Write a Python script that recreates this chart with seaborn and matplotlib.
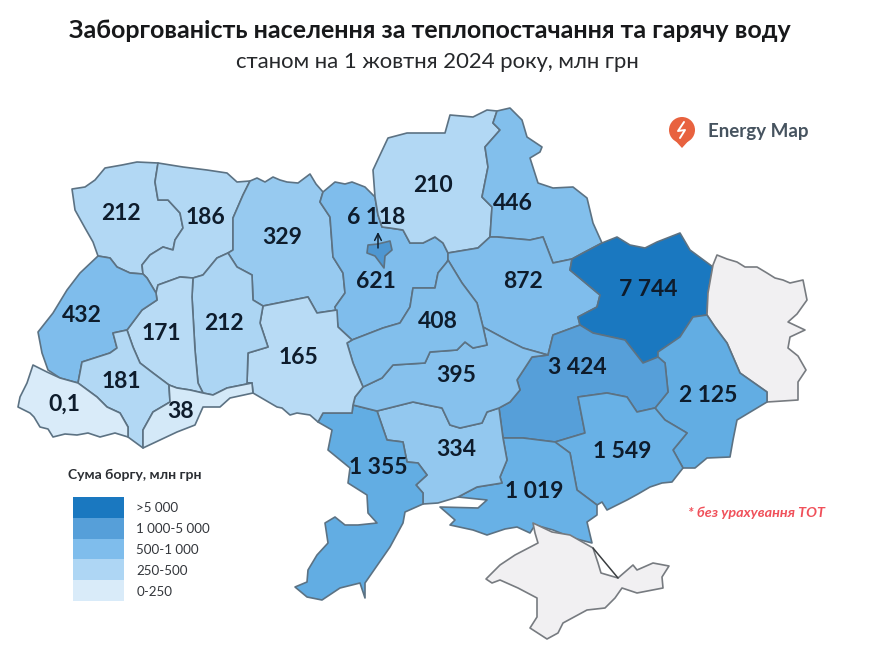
import numpy as np
import matplotlib
matplotlib.use("Agg")
import matplotlib.pyplot as plt
from matplotlib.colors import ListedColormap
from matplotlib.patches import Circle, Polygon
import seaborn as sns

sns.set_theme(style="white")
plt.rcParams['font.family'] = ['Lato', 'Open Sans', 'DejaVu Sans']

TITLE = "Заборгованість населення за теплопостачання та гарячу воду"
SUBTITLE = "станом на 1 жовтня 2024 року, млн грн"
LEGEND_TITLE = "Сума боргу, млн грн"
LEGEND_LABELS = [">5 000", "1 000-5 000", "500-1 000", "250-500", "0-250"]
LEGEND_COLORS = ["#1a78c0", "#569fd9", "#7fbdec", "#aed6f4", "#d9ebf9"]
NOTE = "* без урахування ТОТ"
BRAND = "Energy Map"

debt_labels = {
    "Волинська": "212", "Рівненська": "186", "Житомирська": "329", "Київська": "621",
    "Чернігівська": "210", "Сумська": "446", "Полтавська": "872", "Харківська": "7 744",
    "Донецька": "2 125", "Дніпропетровська": "3 424", "Запорізька": "1 549",
    "Херсонська": "1 019", "Миколаївська": "334", "Одеська": "1 355",
    "Кіровоградська": "395", "Черкаська": "408", "Вінницька": "165",
    "Хмельницька": "212", "Тернопільська": "171", "Львівська": "432",
    "Івано-Франківська": "181", "Закарпатська": "0,1", "Чернівецька": "38",
    "м. Київ": "6 118",
}
fills = {
    "Волинська": "#b2d8f4", "Рівненська": "#b2d8f4", "Житомирська": "#97caf0", "Київська": "#7fbdec",
    "Чернігівська": "#b2d8f4", "Сумська": "#82bfec", "Полтавська": "#7fbdec", "Харківська": "#1a78c0",
    "Донецька": "#62ade3", "Дніпропетровська": "#569fd9", "Запорізька": "#68b1e6",
    "Херсонська": "#68b1e6", "Миколаївська": "#93c8ef", "Одеська": "#62ade3",
    "Кіровоградська": "#86c1ed", "Черкаська": "#82bfec", "Вінницька": "#b8dbf5",
    "Хмельницька": "#acd5f3", "Тернопільська": "#b8dbf5", "Львівська": "#7fbdec",
    "Івано-Франківська": "#b2d8f4", "Закарпатська": "#d9ebf9", "Чернівецька": "#d4e9f8",
    "м. Київ": "#4e97d2", "Луганська": "#f1f0f2", "Крим": "#f1f0f2",
}
label_xy = {
    "Волинська": (121, 213), "Рівненська": (205, 218), "Житомирська": (282, 237), "Київська": (376, 281),
    "Чернігівська": (433, 186), "Сумська": (513, 203), "Полтавська": (523, 282), "Харківська": (648, 290),
    "Донецька": (708, 395), "Дніпропетровська": (577, 367), "Запорізька": (622, 451),
    "Херсонська": (534, 491), "Миколаївська": (456, 450), "Одеська": (378, 468),
    "Кіровоградська": (456, 376), "Черкаська": (438, 321), "Вінницька": (298, 358),
    "Хмельницька": (224, 323), "Тернопільська": (161, 333), "Львівська": (82, 315),
    "Івано-Франківська": (121, 381), "Закарпатська": (64, 404), "Чернівецька": (181, 412),
    "м. Київ": (376, 218),
}
# region outlines, in picture pixels
shapes = {
    "Волинська": [(72,189),(85,187),(95,180),(105,168),(122,165),(137,162),(158,163),(155,182),(158,200),(168,200),(180,213),(183,228),(175,240),(173,250),(163,247),(150,255),(142,265),(143,274),(130,273),(117,267),(110,258),(98,256),(93,242),(85,228),(75,210)],
    "Рівненська": [(158,163),(183,167),(207,170),(227,173),(237,182),(250,181),(243,195),(233,218),(233,250),(228,253),(217,258),(203,275),(193,278),(180,277),(158,285),(156,293),(147,278),(143,274),(142,265),(150,255),(163,247),(173,250),(175,240),(183,228),(180,213),(168,200),(158,200),(155,182)],
    "Житомирська": [(250,181),(257,178),(265,182),(273,177),(280,180),(287,182),(298,183),(310,174),(316,184),(323,192),(320,202),(330,217),(333,257),(343,273),(345,293),(335,307),(337,310),(317,313),(308,297),(263,306),(253,300),(252,275),(237,267),(228,253),(233,250),(233,218),(243,195)],
    "Київська": [(323,192),(335,182),(345,184),(352,182),(365,187),(375,197),(378,215),(382,227),(390,228),(403,230),(410,243),(423,243),(435,237),(443,243),(448,253),(448,260),(447,262),(438,273),(435,288),(413,288),(410,307),(400,323),(383,328),(352,340),(338,327),(335,307),(345,293),(343,273),(333,257),(330,217),(320,202)],
    "Чернігівська": [(375,197),(373,170),(380,155),(388,138),(407,133),(428,133),(445,133),(450,115),(473,117),(487,110),(497,111),(493,123),(500,130),(485,147),(488,167),(482,197),(492,207),(490,237),(478,248),(448,253),(443,243),(435,237),(423,243),(410,243),(403,230),(390,228),(382,227),(378,215)],
    "Сумська": [(497,111),(510,108),(522,120),(527,137),(542,147),(540,152),(530,158),(538,183),(553,188),(573,187),(587,198),(593,223),(602,243),(583,253),(572,259),(553,263),(543,237),(530,240),(497,237),(490,237),(492,207),(482,197),(488,167),(485,147),(500,130),(493,123)],
    "Полтавська": [(448,253),(478,248),(490,237),(497,237),(530,240),(543,237),(553,263),(572,259),(570,270),(600,295),(597,307),(578,317),(580,325),(553,335),(548,355),(523,348),(507,340),(483,327),(477,303),(462,283),(448,260)],
    "Харківська": [(572,259),(583,253),(602,243),(617,237),(630,245),(645,248),(657,242),(680,233),(690,250),(713,267),(708,293),(707,315),(693,317),(680,337),(658,352),(658,357),(643,363),(625,340),(593,333),(580,325),(578,317),(597,307),(600,295),(570,270)],
    "Луганська": [(713,265),(717,255),(727,259),(737,262),(745,267),(757,267),(767,273),(775,278),(783,280),(790,283),(803,280),(807,300),(797,314),(788,322),(805,330),(790,337),(788,348),(798,356),(806,370),(798,382),(798,400),(767,402),(767,392),(740,373),(727,343),(715,327),(707,315),(708,293)],
    "Донецька": [(693,317),(707,315),(715,327),(727,343),(740,373),(767,392),(767,402),(737,420),(733,440),(730,457),(707,458),(695,468),(683,468),(673,450),(687,433),(665,420),(655,408),(668,392),(665,363),(658,357),(658,352),(680,337)],
    "Дніпропетровська": [(548,355),(553,335),(580,325),(593,333),(625,340),(643,363),(658,357),(665,363),(668,392),(655,408),(637,412),(627,397),(607,393),(578,397),(585,433),(555,442),(523,438),(503,438),(499,408),(510,402),(520,390),(517,380),(532,357)],
    "Запорізька": [(578,397),(607,393),(627,397),(637,412),(655,408),(665,420),(687,433),(673,450),(683,468),(672,482),(662,483),(650,487),(638,494),(627,500),(607,510),(602,502),(597,505),(577,490),(570,453),(555,442),(585,433)],
    "Херсонська": [(503,438),(523,438),(555,442),(570,453),(577,490),(597,505),(597,515),(587,522),(592,543),(573,538),(553,530),(535,525),(530,533),(517,527),(505,529),(487,535),(473,530),(450,525),(455,520),(440,507),(478,508),(487,500),(458,497),(477,487),(502,483),(500,477),(507,460)],
    "Миколаївська": [(377,411),(413,402),(427,405),(442,408),(450,425),(460,428),(482,423),(487,412),(499,408),(503,438),(507,460),(500,477),(502,483),(477,487),(458,497),(438,503),(423,504),(423,493),(416,485),(427,475),(418,463),(407,462),(403,442),(387,440)],
    "Одеська": [(318,422),(323,413),(352,413),(353,405),(377,411),(387,440),(403,442),(407,462),(418,463),(427,475),(416,485),(423,493),(423,504),(405,512),(403,523),(390,547),(365,583),(365,598),(360,583),(340,588),(322,600),(307,597),(295,587),(307,582),(308,570),(317,555),(328,543),(325,523),(335,517),(345,525),(358,525),(377,523),(368,513),(367,495),(348,483),(350,468),(328,450),(332,430)],
    "Кіровоградська": [(363,387),(382,378),(393,365),(425,363),(430,352),(457,350),(465,342),(473,348),(487,345),(483,327),(507,340),(523,348),(548,355),(532,357),(517,380),(520,390),(510,402),(499,408),(487,412),(482,423),(460,428),(450,425),(442,408),(427,405),(413,402),(377,411),(353,405),(355,397)],
    "Черкаська": [(352,340),(383,328),(400,323),(410,307),(413,288),(435,288),(438,273),(447,262),(448,260),(462,283),(477,303),(483,327),(487,345),(473,348),(465,342),(457,350),(430,352),(425,363),(393,365),(382,378),(363,387),(353,363),(347,343)],
    "Вінницька": [(263,306),(308,297),(317,313),(337,310),(338,327),(352,340),(347,343),(353,363),(363,387),(355,397),(353,405),(352,413),(323,413),(318,422),(310,415),(297,413),(290,415),(282,408),(277,407),(265,400),(253,393),(252,383),(247,383),(248,353),(268,347),(260,323)],
    "Хмельницька": [(228,253),(237,267),(252,275),(253,300),(263,306),(260,323),(268,347),(248,353),(247,383),(252,383),(227,388),(213,395),(203,393),(198,383),(195,350),(192,297),(193,278),(203,275),(217,258)],
    "Тернопільська": [(156,293),(158,285),(180,277),(193,278),(192,297),(195,350),(198,383),(203,393),(190,390),(177,388),(169,385),(153,373),(140,363),(133,347),(127,330),(142,310),(157,300)],
    "Львівська": [(98,256),(110,258),(117,267),(130,273),(143,274),(147,278),(156,293),(157,300),(142,310),(127,330),(113,333),(117,348),(110,353),(82,362),(78,383),(60,378),(48,370),(42,353),(38,332),(53,313),(67,290),(80,273)],
    "Івано-Франківська": [(78,383),(82,362),(110,353),(117,348),(113,333),(127,330),(133,347),(140,363),(153,373),(169,385),(170,402),(153,412),(143,430),(143,448),(128,437),(128,427),(120,413),(107,407),(97,397)],
    "Закарпатська": [(33,365),(47,372),(60,378),(78,383),(97,397),(107,407),(120,413),(128,427),(128,437),(115,433),(100,437),(88,433),(77,435),(65,434),(53,437),(48,429),(40,427),(34,417),(30,413),(18,407),(20,397),(27,383)],
    "Чернівецька": [(143,448),(143,430),(153,412),(170,402),(169,385),(177,388),(190,390),(203,393),(213,395),(227,388),(252,383),(253,393),(230,398),(220,407),(203,407),(195,425),(177,432),(160,440)],
    "Крим": [(533,523),(552,532),(570,535),(593,548),(598,563),(601,573),(618,578),(633,565),(637,570),(653,563),(669,566),(662,577),(663,588),(637,593),(622,588),(615,598),(605,608),(587,610),(563,623),(558,633),(547,639),(530,628),(537,617),(537,598),(518,588),(500,580),(492,583),(486,579),(500,565),(515,555),(538,543),(535,533)],
    "м. Київ": [(367,253),(368,245),(378,244),(390,241),(392,250),(385,256),(384,268),(375,256)],
}
arabat_spit = ([593, 618], [548, 578])
EDGE = "#5c7283"

fig = plt.figure(figsize=(8.78, 6.55), dpi=100, facecolor="white")
ax = fig.add_axes([0, 0, 1, 1])
ax.set_xlim(0, 878)
ax.set_ylim(655, 0)
ax.axis("off")

for name, outline in shapes.items():
    grey = name in ("Луганська", "Крим")
    ax.add_patch(Polygon(outline, closed=True, facecolor=fills[name],
                         edgecolor="#777b80" if grey else EDGE, linewidth=1.2,
                         joinstyle="round", zorder=3 if name == "м. Київ" else 2))
ax.plot(*arabat_spit, color="#3a3d40", lw=1.1, zorder=3)

ax.annotate("", xy=(378, 232), xytext=(378, 248),
            arrowprops=dict(arrowstyle="->", color="#10202e", lw=1.1, shrinkA=0, shrinkB=0), zorder=4)

for name, text in debt_labels.items():
    x, y = label_xy[name]
    ax.text(x, y, text, ha="center", va="center", fontsize=16.5, fontweight="bold",
            color="#0e1c2c", zorder=5)

ax.text(430, 31, TITLE, ha="center", va="center", fontsize=18, fontweight="bold", color="#17181a")
ax.text(437, 62, SUBTITLE, ha="center", va="center", fontsize=15.9, color="#26282b")

# logo
ax.add_patch(Polygon([(672, 137), (692, 137), (682, 148)], closed=True, facecolor="#e8623f", edgecolor="none"))
ax.add_patch(Circle((682, 130), 13, facecolor="#e8623f", edgecolor="none"))
ax.plot([684, 678, 685, 680], [122, 131, 130, 138], color="white", lw=1.4)
ax.text(708, 131, BRAND, ha="left", va="center", fontsize=13.5, fontweight="bold", color="#46535f")

ax.text(757, 513, NOTE, ha="center", va="center", fontsize=10.4, fontweight="bold",
        fontstyle="italic", color="#f0505a")

ax.text(68, 475, LEGEND_TITLE, ha="left", va="center", fontsize=10.1, fontweight="bold", color="#2b2e33")

lax = fig.add_axes([73 / 878, 1 - 601 / 655, 51 / 878, 104 / 655])
sns.heatmap(np.arange(len(LEGEND_LABELS)).reshape(-1, 1), cmap=ListedColormap(LEGEND_COLORS),
            cbar=False, ax=lax, xticklabels=False, yticklabels=LEGEND_LABELS)
lax.yaxis.tick_right()
lax.tick_params(axis="y", length=0, pad=9, labelrotation=0, labelsize=9.6, labelcolor="#33363b")

fig.savefig("out.png", dpi=100)
